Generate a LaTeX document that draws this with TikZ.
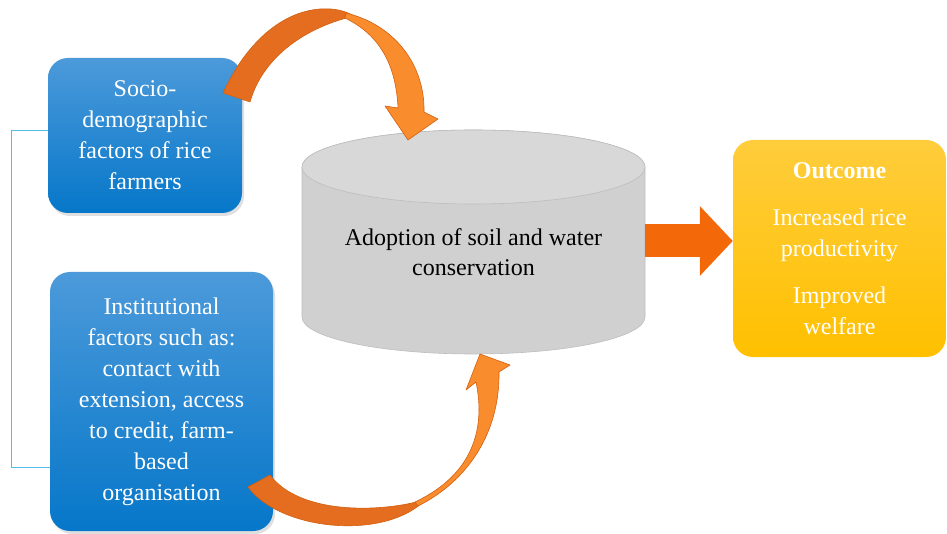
\documentclass[tikz,border=0pt]{standalone}
\usepackage{fontspec}
\setmainfont{Liberation Serif}
\usetikzlibrary{arrows.meta,positioning,shadows}

\definecolor{blueT}{HTML}{4C9ADA}
\definecolor{blueM}{HTML}{0B88DA}
\definecolor{blueB}{HTML}{0677C9}
\definecolor{goldT}{HTML}{FFCD3C}
\definecolor{goldM}{HTML}{FFC60F}
\definecolor{goldB}{HTML}{FFC000}
\definecolor{orDark}{HTML}{E46D1F}
\definecolor{orLight}{HTML}{F98C2D}
\definecolor{orLine}{HTML}{D3600F}
\definecolor{orBlock}{HTML}{F3690A}
\definecolor{cylBody}{HTML}{D0D0D0}
\definecolor{cylTop}{HTML}{D8D8D8}
\definecolor{cylLine}{HTML}{BDBDBD}
\definecolor{brack}{HTML}{55BDEB}

\begin{document}
\begin{tikzpicture}[
  x=1pt,y=-1pt,
  >=Latex,
  factor/.style={rounded corners=20pt,top color=blueT,middle color=blueM,
    bottom color=blueB,align=center,text=white,inner sep=0pt,
    font=\fontsize{24}{31}\selectfont,
    drop shadow={shadow xshift=2pt,shadow yshift=-3pt,opacity=0.25}},
  outcome/.style={rounded corners=20pt,top color=goldT,middle color=goldM,
    bottom color=goldB,align=center,text=white,inner sep=0pt,
    font=\fontsize{24}{31}\selectfont},
  lab/.style={align=center,inner sep=0pt,font=\fontsize{24}{30}\selectfont},
  curved/.style={draw=orLine,line width=0.6pt,line join=round},
  bracket/.style={draw=brack,line width=1pt}
]
\useasboundingbox (0,0) rectangle (947,534);

% cylinder
\fill[cylBody,draw=cylLine,line width=0.6pt] (302,167) -- (302,317)
  arc[start angle=180,end angle=0,x radius=171.5,y radius=37] -- (645,167)
  arc[start angle=0,end angle=-180,x radius=171.5,y radius=37] -- cycle;
\draw[cylLine,fill=cylTop,line width=0.6pt] (473.5,167) ellipse[x radius=171.5,y radius=37];

\node[factor,minimum width=194pt,minimum height=155pt] (soc) at (145,135.5)
  {Socio-\\demographic\\factors of rice\\farmers};
\node[factor,minimum width=223pt,minimum height=259pt] (inst) at (161.5,401.5)
  {Institutional\\factors such as:\\contact with\\extension, access\\to credit, farm-\\based\\organisation};
\node[lab,minimum width=343pt] (cyl) at (473.5,252) {Adoption of soil and water\\conservation};
\node[outcome,minimum width=213pt,minimum height=217pt] (out) at (839.5,248.5)
  {\textbf{Outcome}\\[16pt]Increased rice\\productivity\\[16pt]Improved\\welfare};

% bracket joining the two groups of factors
\draw[bracket] ([yshift=5pt]soc.west) -- ++(-36,0) |- ([yshift=-66pt]inst.west);

% block arrow to the outcome
\draw[orBlock,line width=33pt,-{Triangle[length=33pt,width=68pt]}]
  ([yshift=11pt]cyl.east) -- ([yshift=11pt]cyl.east -| out.west);

% curved arrow from the top box
\fill[orDark,curved] (223,93) .. controls (245,45) and (280,12) .. (320,9)
  .. controls (335,8) and (345,11) .. (352,15) -- (350,17)
  .. controls (300,30) and (262,60) .. (250,102) -- cycle;
\fill[orLight,curved] (346,13) .. controls (395,25) and (425,65) .. (424,112)
  -- (438,119) -- (408,140) -- (385,106) -- (398,108)
  .. controls (396,65) and (380,35) .. (345,18) -- cycle;

% curved arrow from the bottom box
\fill[orDark,curved] (248,487) .. controls (280,530) and (380,540) .. (422,503)
  -- (420,501) .. controls (380,512) and (300,515) .. (270,475) -- cycle;
\fill[orLight,curved] (418,506) .. controls (470,480) and (500,430) .. (499,372)
  -- (510,365) -- (480,354) -- (466,390) -- (476,382)
  .. controls (486,430) and (472,475) .. (415,502) -- cycle;
\end{tikzpicture}
\end{document}
